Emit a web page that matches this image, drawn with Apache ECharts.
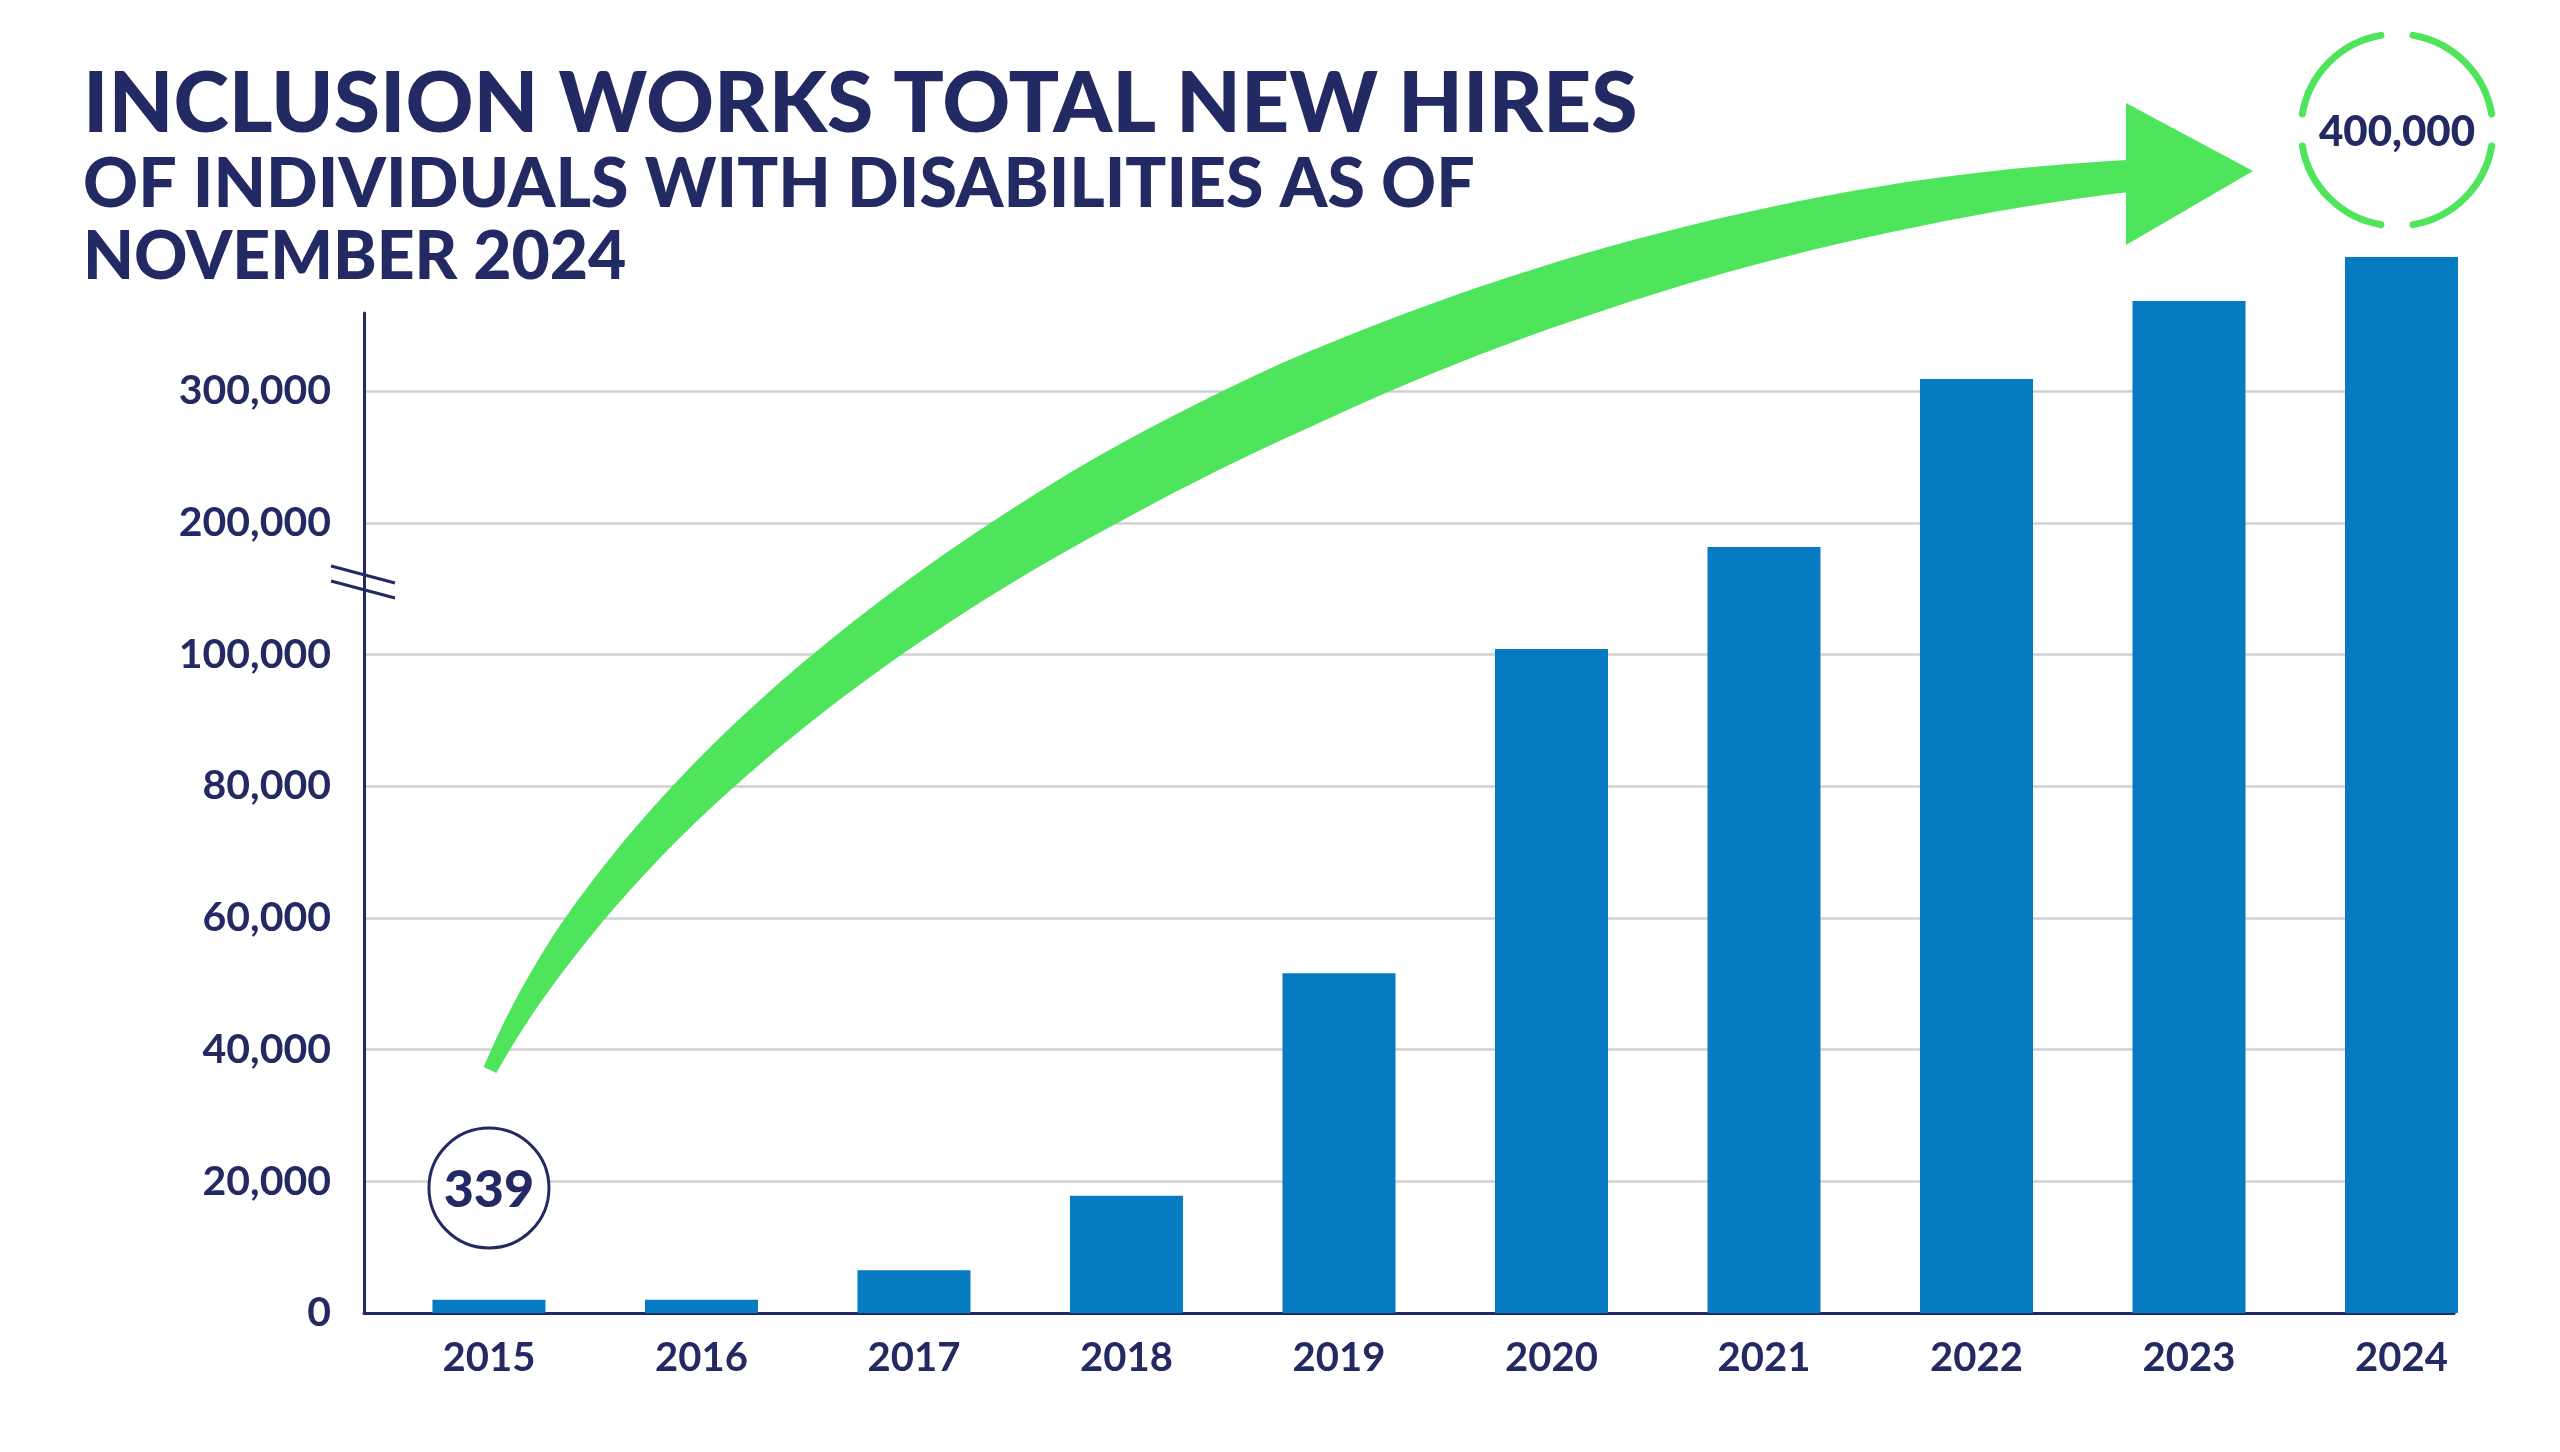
<!DOCTYPE html>
<html>
<head>
<meta charset="utf-8">
<title>Inclusion Works Total New Hires</title>
<script src="https://cdn.jsdelivr.net/npm/echarts@6/dist/echarts.min.js"></script>
<style>
  html, body { margin: 0; padding: 0; background: #fff; }
  #chart { width: 2560px; height: 1452px; }
</style>
</head>
<body>
<div id="chart"></div>
<script>
// values
const years = [2015, 2016, 2017, 2018, 2019, 2020, 2021, 2022, 2023, 2024];
const hires = [2000, 2000, 6500, 17800, 51600, 104200, 181600, 309200, 368400, 401800];
const yTickLabels = ['0', '20,000', '40,000', '60,000', '80,000', '100,000', '200,000', '300,000'];
const startLabel = '339';
const endLabel = '400,000';
const titleLines = [
  'INCLUSION WORKS TOTAL NEW HIRES',
  'OF INDIVIDUALS WITH DISABILITIES AS OF',
  'NOVEMBER 2024'
];

const NAVY = '#232a63';
const BLUE = '#067bc2';
const GREEN = '#4ee45c';
const FONT = 'Lato, "Open Sans", sans-serif';

// broken axis: 0-100k in 20k steps, then 100k per step
function toAxis(v) {
  return v <= 100000 ? v / 20000 : 5 + (v - 100000) / 100000;
}

const chart = echarts.init(document.getElementById('chart'));

chart.setOption({
  backgroundColor: '#fff',
  animation: false,
  grid: { left: 364, right: 106, top: 313, bottom: 139 },
  xAxis: {
    type: 'value',
    min: 2014.412,
    max: 2024.247,
    axisLine: { show: true, lineStyle: { color: NAVY, width: 3 } },
    axisTick: { show: false },
    splitLine: { show: false },
    axisLabel: {
      customValues: years,
      formatter: v => String(v),
      color: NAVY,
      fontFamily: FONT,
      fontWeight: 'bold',
      fontSize: 40,
      margin: 25
    }
  },
  yAxis: {
    type: 'value',
    min: 0,
    max: 7.593,
    interval: 1,
    axisLine: { show: true, lineStyle: { color: NAVY, width: 3 } },
    axisTick: { show: false },
    splitLine: {
      show: true,
      showMinLine: false,
      showMaxLine: false,
      lineStyle: { color: '#d0d0d0', width: 2.5 }
    },
    axisLabel: {
      showMaxLabel: false,
      formatter: v => (Number.isInteger(v) && yTickLabels[v] !== undefined ? yTickLabels[v] : ''),
      color: NAVY,
      fontFamily: FONT,
      fontWeight: 'bold',
      fontSize: 41,
      margin: 33
    }
  },
  series: [{
    type: 'bar',
    barWidth: 113,
    clip: false,
    itemStyle: { color: BLUE },
    data: years.map((y, i) => [y, toAxis(hires[i])])
  }]
});

// big curved arrow (decoration): cubic centre line + tapering width
const arrowCurve = [[490, 1070], [695, 645], [1400, 238], [2128, 176]];
const arrowWidth = [[0, 14], [0.1, 30], [0.25, 46], [0.5, 68], [0.6, 70], [0.75, 60], [0.9, 46], [1, 32]];

function widthAt(t) {
  for (let i = 1; i < arrowWidth.length; i++) {
    const [t0, w0] = arrowWidth[i - 1], [t1, w1] = arrowWidth[i];
    if (t <= t1) return w0 + (w1 - w0) * (t - t0) / (t1 - t0);
  }
  return arrowWidth[arrowWidth.length - 1][1];
}

function arrowShaft() {
  const [p0, p1, p2, p3] = arrowCurve;
  const up = [], low = [];
  for (let k = 0; k <= 80; k++) {
    const t = k / 80, s = 1 - t;
    const x = s*s*s*p0[0] + 3*s*s*t*p1[0] + 3*s*t*t*p2[0] + t*t*t*p3[0];
    const y = s*s*s*p0[1] + 3*s*s*t*p1[1] + 3*s*t*t*p2[1] + t*t*t*p3[1];
    const dx = 3*s*s*(p1[0]-p0[0]) + 6*s*t*(p2[0]-p1[0]) + 3*t*t*(p3[0]-p2[0]);
    const dy = 3*s*s*(p1[1]-p0[1]) + 6*s*t*(p2[1]-p1[1]) + 3*t*t*(p3[1]-p2[1]);
    const len = Math.hypot(dx, dy);
    const nx = dy / len, ny = -dx / len;
    const h = widthAt(t) / 2;
    up.push([x + nx * h, y + ny * h]);
    low.push([x - nx * h, y - ny * h]);
  }
  return up.concat(low.reverse());
}

const startPt = chart.convertToPixel({ seriesIndex: 0 }, [years[0], 0]);
const breakPt = chart.convertToPixel({ seriesIndex: 0 }, [2014.412, 5.55]);

// ring of four arcs around the end value
const ring = { cx: 2397, cy: 130, r: 96 };
const gapHalf = 0.168;
const arcs = [0, 1, 2, 3].map(k => ({
  type: 'arc',
  z: 100,
  shape: {
    cx: ring.cx, cy: ring.cy, r: ring.r,
    startAngle: k * Math.PI / 2 + gapHalf,
    endAngle: (k + 1) * Math.PI / 2 - gapHalf,
    clockwise: true
  },
  style: { stroke: GREEN, lineWidth: 7, lineCap: 'round', fill: null }
}));

const titleY = [105, 185, 258];
const titleSize = [84, 68, 66];

chart.setOption({
  graphic: [
    ...titleLines.map((t, i) => ({
      type: 'text', z: 100, x: 83, y: titleY[i],
      style: {
        text: t, fill: NAVY, fontFamily: FONT, fontWeight: 900,
        fontSize: titleSize[i], align: 'left', verticalAlign: 'middle'
      }
    })),
    { type: 'polygon', z: 90, shape: { points: arrowShaft() }, style: { fill: GREEN } },
    { type: 'polygon', z: 90, shape: { points: [[2126, 103], [2126, 245], [2253, 171]] }, style: { fill: GREEN } },
    ...arcs,
    {
      type: 'text', z: 101, x: ring.cx, y: ring.cy + 2,
      style: {
        text: endLabel, fill: NAVY, fontFamily: FONT, fontWeight: 900,
        fontSize: 42, align: 'center', verticalAlign: 'middle'
      }
    },
    {
      type: 'circle', z: 100,
      shape: { cx: startPt[0], cy: 1188, r: 60 },
      style: { fill: '#fff', stroke: NAVY, lineWidth: 3 }
    },
    {
      type: 'text', z: 101, x: startPt[0], y: 1190,
      style: {
        text: startLabel, fill: NAVY, fontFamily: FONT, fontWeight: 900,
        fontSize: 52, align: 'center', verticalAlign: 'middle'
      }
    },
    // axis break marks
    {
      type: 'line', z: 100,
      shape: { x1: breakPt[0] - 33, y1: breakPt[1] - 16, x2: breakPt[0] + 31, y2: breakPt[1] + 1 },
      style: { stroke: NAVY, lineWidth: 3 }
    },
    {
      type: 'line', z: 100,
      shape: { x1: breakPt[0] - 33, y1: breakPt[1] - 1, x2: breakPt[0] + 31, y2: breakPt[1] + 16 },
      style: { stroke: NAVY, lineWidth: 3 }
    }
  ]
});
</script>
</body>
</html>
